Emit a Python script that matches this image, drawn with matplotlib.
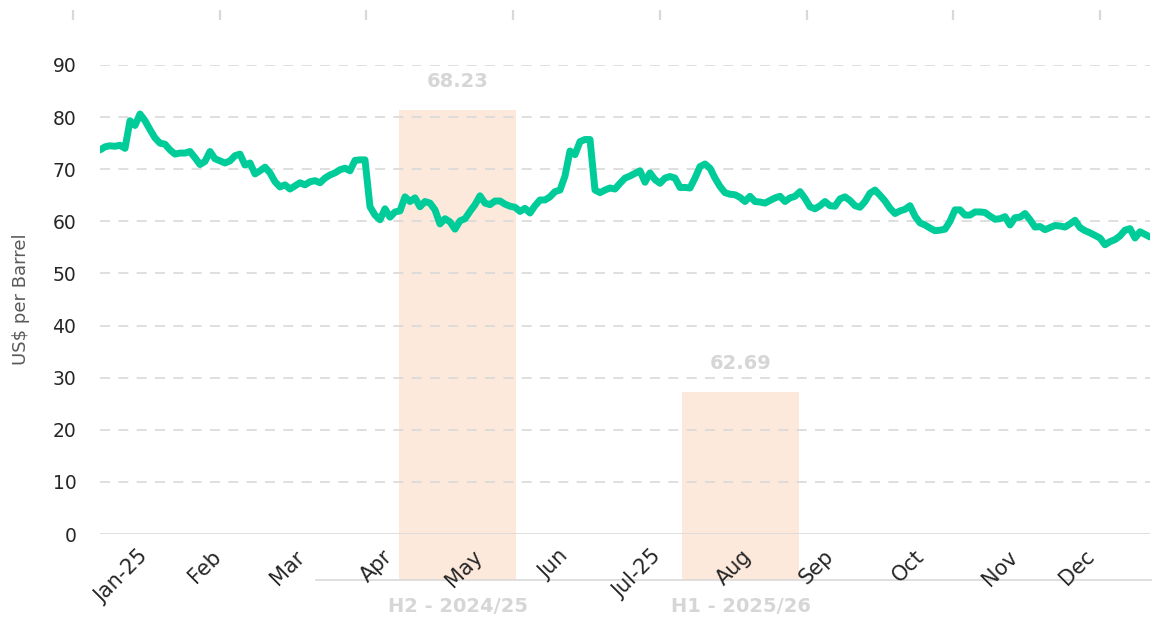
import matplotlib
matplotlib.use("Agg")
import matplotlib.pyplot as plt

# ---------------- data ----------------
# daily crude price (US$ per barrel), trading-day index 0..210
price = [
    73.7, 74.3, 74.5, 74.4, 74.6, 74.0, 79.3, 78.4, 80.6, 79.3,
    77.6, 76.0, 75.0, 74.8, 73.7, 72.9, 73.1, 73.1, 73.4, 72.2,
    70.9, 71.5, 73.4, 72.0, 71.6, 71.2, 71.6, 72.6, 72.9, 70.8,
    71.2, 69.1, 69.7, 70.4, 69.3, 67.6, 66.6, 67.0, 66.2, 66.8,
    67.4, 67.0, 67.6, 67.8, 67.4, 68.3, 68.9, 69.3, 69.9, 70.2,
    69.7, 71.7, 71.8, 71.8, 62.8, 61.2, 60.3, 62.4, 60.8, 61.8,
    62.0, 64.7, 63.8, 64.5, 62.8, 63.8, 63.5, 62.2, 59.5, 60.5,
    59.9, 58.5, 60.1, 60.5, 61.9, 63.2, 64.9, 63.5, 63.2, 63.9,
    63.9, 63.3, 62.9, 62.7, 61.9, 62.5, 61.6, 63.0, 64.1, 64.1,
    64.7, 65.7, 66.0, 68.7, 73.5, 72.8, 75.3, 75.7, 75.7, 66.0,
    65.5, 66.0, 66.4, 66.2, 67.3, 68.3, 68.7, 69.2, 69.7, 67.5,
    69.3, 68.0, 67.3, 68.3, 68.6, 68.3, 66.5, 66.5, 66.4, 68.3,
    70.5, 71.0, 70.2, 68.3, 66.7, 65.5, 65.2, 65.1, 64.6, 63.8,
    64.8, 63.8, 63.7, 63.5, 64.0, 64.5, 64.8, 63.8, 64.5, 64.8,
    65.7, 64.4, 62.8, 62.4, 63.0, 63.8, 63.0, 62.9, 64.3, 64.7,
    64.0, 63.0, 62.7, 63.8, 65.4, 66.0, 65.0, 63.9, 62.5, 61.5,
    62.0, 62.3, 63.0, 61.0, 59.7, 59.3, 58.7, 58.2, 58.3, 58.5,
    60.0, 62.2, 62.2, 61.2, 61.2, 61.8, 61.8, 61.7, 61.0, 60.4,
    60.5, 60.9, 59.3, 60.7, 60.8, 61.5, 60.3, 58.9, 59.0, 58.4,
    58.8, 59.2, 59.1, 58.9, 59.5, 60.2, 58.8, 58.2, 57.8, 57.3,
    56.8, 55.5, 56.1, 56.5, 57.2, 58.3, 58.6, 56.8, 58.0, 57.5,
    57.0,
]
day = list(range(len(price)))

month_labels = ["Jan-25", "Feb", "Mar", "Apr", "May", "Jun",
                "Jul-25", "Aug", "Sep", "Oct", "Nov", "Dec"]
month_pos = [7.6, 22.2, 38.8, 56.4, 74.4, 91.6, 110.2, 128.2, 144.6, 162.8, 181.4, 196.8]

half_years = ["H2 - 2024/25", "H1 - 2025/26"]
half_avg = [68.23, 62.69]

y_ticks = [0, 10, 20, 30, 40, 50, 60, 70, 80, 90]

# ---------------- style ----------------
W, H = 1152, 619
plt.rcParams["font.family"] = ["DejaVu Sans"]
fig = plt.figure(figsize=(W / 100, H / 100), dpi=100)
fig.patch.set_facecolor("white")

def rect(l, r, b, t):
    return [l / W, 1 - b / H, (r - l) / W, (b - t) / H]

LINE_C = "#00CC99"
BAR_C = "#FCE9DB"
GRID_C = "#D9D9D9"
LABEL_GREY = "#D6D6D6"

# bar axes (half-year averages)
ax2 = fig.add_axes(rect(316, 1152, 580, 20), zorder=1)
ax2.bar(range(len(half_avg)), half_avg, width=0.415, color=BAR_C, zorder=1)
ax2.set_xlim(-0.5, 2.454)
ax2.set_ylim(59, 70)
for s in ["top", "left", "right"]:
    ax2.spines[s].set_visible(False)
ax2.spines["bottom"].set_color(GRID_C)
ax2.spines["bottom"].set_linewidth(1.2)
ax2.set_yticks([])
ax2.set_xticks(range(len(half_years)))
ax2.set_xticklabels(half_years, fontsize=14, fontweight="bold", color=LABEL_GREY)
ax2.tick_params(axis="x", length=0, pad=12)
for i, v in enumerate(half_avg):
    ax2.annotate(f"{v:.2f}", (i, v), xytext=(0, 14), textcoords="offset points",
                 ha="center", va="bottom", fontsize=14, fontweight="bold",
                 color=LABEL_GREY)
ax2.patch.set_visible(False)

# top tick marks
ax3 = fig.add_axes(rect(73, 1100, 21, 20), zorder=0)
ax3.set_xlim(0, 7)
ax3.set_xticks(range(8))
ax3.set_yticks([])
ax3.xaxis.tick_top()
ax3.tick_params(axis="x", direction="out", length=7.5, width=1.6, color=GRID_C,
                labeltop=False, labelbottom=False)
for s in ax3.spines.values():
    s.set_visible(False)
ax3.patch.set_visible(False)

# main line axes
ax = fig.add_axes(rect(100, 1150, 534, 65), zorder=2)
ax.patch.set_visible(False)
ax.plot(day, price, color=LINE_C, lw=5.0, solid_capstyle="round",
        solid_joinstyle="round", zorder=3)
ax.set_xlim(0, 210)
ax.set_ylim(0, 90)
ax.set_yticks(y_ticks)
ax.set_yticklabels([str(t) for t in y_ticks], fontsize=13.5, color="#262626")
for t in y_ticks[1:]:
    ax.axhline(t, color=GRID_C, lw=1.2, ls=(0, (6, 5)), zorder=1)
ax.axhline(0, color=GRID_C, lw=1.2, zorder=1)
for s in ax.spines.values():
    s.set_visible(False)
ax.tick_params(axis="y", length=0, pad=17)
ax.set_xticks(month_pos)
ax.set_xticklabels(month_labels, fontsize=15, color="#262626", rotation=45,
                   ha="right", va="top", rotation_mode="anchor")
ax.tick_params(axis="x", length=0, pad=9)
ax.set_ylabel("US$ per Barrel", fontsize=13, color="#595959")
ax.yaxis.set_label_coords(-70 / 1050, 0.5)

fig.savefig("out.png", dpi=100, facecolor="white")
